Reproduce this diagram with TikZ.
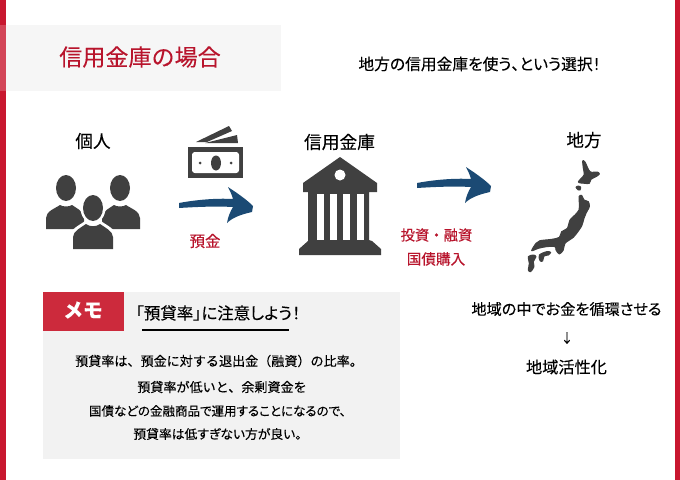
\documentclass[tikz,border=0pt]{standalone}
\usepackage{fontspec}
\setmainfont[FakeBold=0.1]{Noto Sans CJK JP}
\newfontfamily\paltfont[FakeBold=0.1,RawFeature=+palt]{Noto Sans CJK JP}
\usetikzlibrary{arrows,shapes,calc,positioning}
\definecolor{barred}{HTML}{C8172F}
\definecolor{labelred}{HTML}{B8142C}
\definecolor{memored}{HTML}{CC2A3C}
\definecolor{titlegray}{HTML}{F6F6F6}
\definecolor{memogray}{HTML}{F2F2F2}
\definecolor{icongray}{HTML}{404040}
\definecolor{swooshblue}{HTML}{1B4A74}
\tikzset{
	blacktxt/.style={text=black, inner sep=0pt, font=\fontsize{#1}{#1}\selectfont},
	palttxt/.style={text=black, inner sep=0pt, font=\fontsize{#1}{#1}\selectfont\paltfont},
	redtxt/.style={text=labelred, inner sep=0pt, font=\fontsize{#1}{#1}\selectfont},
	icon/.style={fill=icongray, draw=none},
	hole/.style={fill=white, draw=none},
	isle/.style={fill=icongray, draw=icongray, line width=0.7pt, line join=round},
}
\begin{document}
\begin{tikzpicture}[x=0.025cm, y=-0.025cm]
	\useasboundingbox (0,0) rectangle (680,480);
	\fill [white] (0,0) rectangle (680,480);
	% frame
	\fill [barred] (0,0) rectangle (5.5,480);
	\fill [barred] (674.5,0) rectangle (680,480);
	% title
	\fill [titlegray] (5.5,25) rectangle (281,91);
	\fill [white, opacity=0.2] (0,25) rectangle (5.5,91);
	\node [redtxt=16.4] (title) at (140,57) {信用金庫の場合};
	\node [palttxt=11.2] (choice) at (479.5,64) {地方の信用金庫を使う、という選択！};
	% labels
	\node [blacktxt=12.5] (person) at (93,141) {個人};
	\node [blacktxt=12.6] (bank) at (339.5,142) {信用金庫};
	\node [blacktxt=12.5] (region) at (584,140) {地方};
	\node [redtxt=11] (deposit) at (205,241) {預金};
	\node [redtxt=10.2] (invest) at (436.5,235) {投資・融資};
	\node [redtxt=10.4] (bond) at (436,259) {国債購入};
	% people
	\fill [icon] (66,188) ellipse (10 and 13);
	\fill [icon] (120,188) ellipse (10 and 13);
	\fill [icon] (46,229) -- (46,218) .. controls (46,211) and (56,208) .. (60,205) .. controls (63,207) and (69,207) .. (72,205) .. controls (76,208) and (84,211) .. (84,218) -- (84,229) -- cycle;
	\fill [icon] (140,229) -- (140,218) .. controls (140,211) and (130,208) .. (126,205) .. controls (123,207) and (117,207) .. (114,205) .. controls (110,208) and (102,211) .. (102,218) -- (102,229) -- cycle;
	\fill [white] (93,208) ellipse (12.5 and 15.5);
	\fill [white] (70,252) -- (70,236) .. controls (70,229) and (80,225) .. (85,221) -- (101,221) .. controls (106,225) and (116,229) .. (116,236) -- (116,252) -- cycle;
	\fill [icon] (93,208) ellipse (10 and 13);
	\fill [icon] (73,249) -- (73,237) .. controls (73,231) and (82,227) .. (86,224) .. controls (90,227) and (96,227) .. (100,224) .. controls (104,227) and (113,231) .. (113,237) -- (113,249) -- cycle;
	% banknotes
	\fill [icon] (196,142) -- (229,126) -- (232,131) -- (207,142) -- cycle;
	\fill [icon] (205,143) -- (237,135) -- (238,143) -- cycle;
	\fill [icon] (188,147) rectangle (243,178);
	\fill [hole, rounded corners=2] (192,152) rectangle (239,173);
	\fill [icon] (216,163) ellipse (5 and 7.5);
	\fill [icon] (200,163) circle (1.5);
	\fill [icon] (231,163) circle (1.5);
	% swooshes
	\foreach \ax/\ay in {0/0,238/-20}{
		\fill [swooshblue, shift={(\ax,\ay)}] (179,203) .. controls (195,200) and (215,198) .. (233,199) .. controls (232,195) and (230,191) .. (228,187) .. controls (237,193) and (246,199) .. (253,206) -- (252,212) .. controls (243,214) and (233,217) .. (227,223) .. controls (228,217) and (230,212) .. (233,207) .. controls (215,206) and (195,207) .. (179,208) -- cycle;
	}
	% bank building
	\fill [icon] (340,157) -- (377,183) -- (377,192) -- (369,192) -- (369,240) -- (372,241) -- (381,249) -- (381,255) -- (299,255) -- (299,249) -- (308,241) -- (308,192) -- (303,192) -- (303,183) -- cycle;
	\fill [hole] (340,175) circle (5.5);
	\foreach \cx in {317,330,343,357}{
		\fill [hole] (\cx,194) rectangle ++(6.5,46);
	}
	% japan
	\begin{scope}[shift={(510,150)}, x=0.00833cm, y=-0.00833cm]
		\draw [isle] plot [smooth cycle, tension=0.5] coordinates {(218,33) (225,36) (240,65) (262,66) (268,72) (258,80) (243,88) (238,100) (225,100) (205,96) (222,75) (220,55)};
		\draw [isle] plot [smooth cycle, tension=0.5] coordinates {(198,112) (205,108) (212,111) (210,120) (205,120)};
		\draw [isle] plot [smooth cycle, tension=0.5] coordinates {(207,140) (215,136) (222,150) (235,155) (238,170) (228,190) (222,205) (215,228) (200,250) (190,262) (165,280) (160,300) (148,312) (138,300) (135,290) (110,290) (85,295) (65,302) (78,280) (90,272) (125,268) (148,262) (155,245) (172,235) (180,210) (195,195) (207,180) (208,160)};
		\draw [isle] plot [smooth cycle, tension=0.5] coordinates {(88,315) (110,305) (122,307) (115,315) (102,318) (98,333) (90,332)};
		\draw [isle] plot [smooth cycle, tension=0.5] coordinates {(55,320) (70,315) (78,320) (70,335) (72,350) (62,365) (55,360) (58,340)};
	\end{scope}
	% memo
	\fill [memogray] (43,292) rectangle (400,459);
	\fill [memored] (43,292) rectangle (124,331);
	\node [text=white, inner sep=0pt, font=\fontsize{14}{14}\selectfont\bfseries] (memo) at (83,310) {メモ};
	\node [palttxt=11.7] (heading) at (218,313) {「預貸率」に注意しよう！};
	\draw [line width=1pt, black] (142,330) -- (289,330);
	\node [blacktxt=9.3] (line one) at (219,361) {預貸率は、預金に対する退出金（融資）の比率。};
	\node [blacktxt=9.3] (line two) at (222,387) {預貸率が低いと、余剰資金を};
	\node [palttxt=8.9] (line three) at (217.5,411) {国債などの金融商品で運用することになるので、};
	\node [palttxt=9.1] (line four) at (217.5,434) {預貸率は低すぎない方が良い。};
	% right column
	\node [palttxt=10.8] (cycle) at (566.5,309) {地域の中でお金を循環させる};
	\node [blacktxt=9] (down) at (567,338) {↓};
	\node [blacktxt=11.5] (revive) at (566.5,367) {地域活性化};
\end{tikzpicture}
\end{document}
